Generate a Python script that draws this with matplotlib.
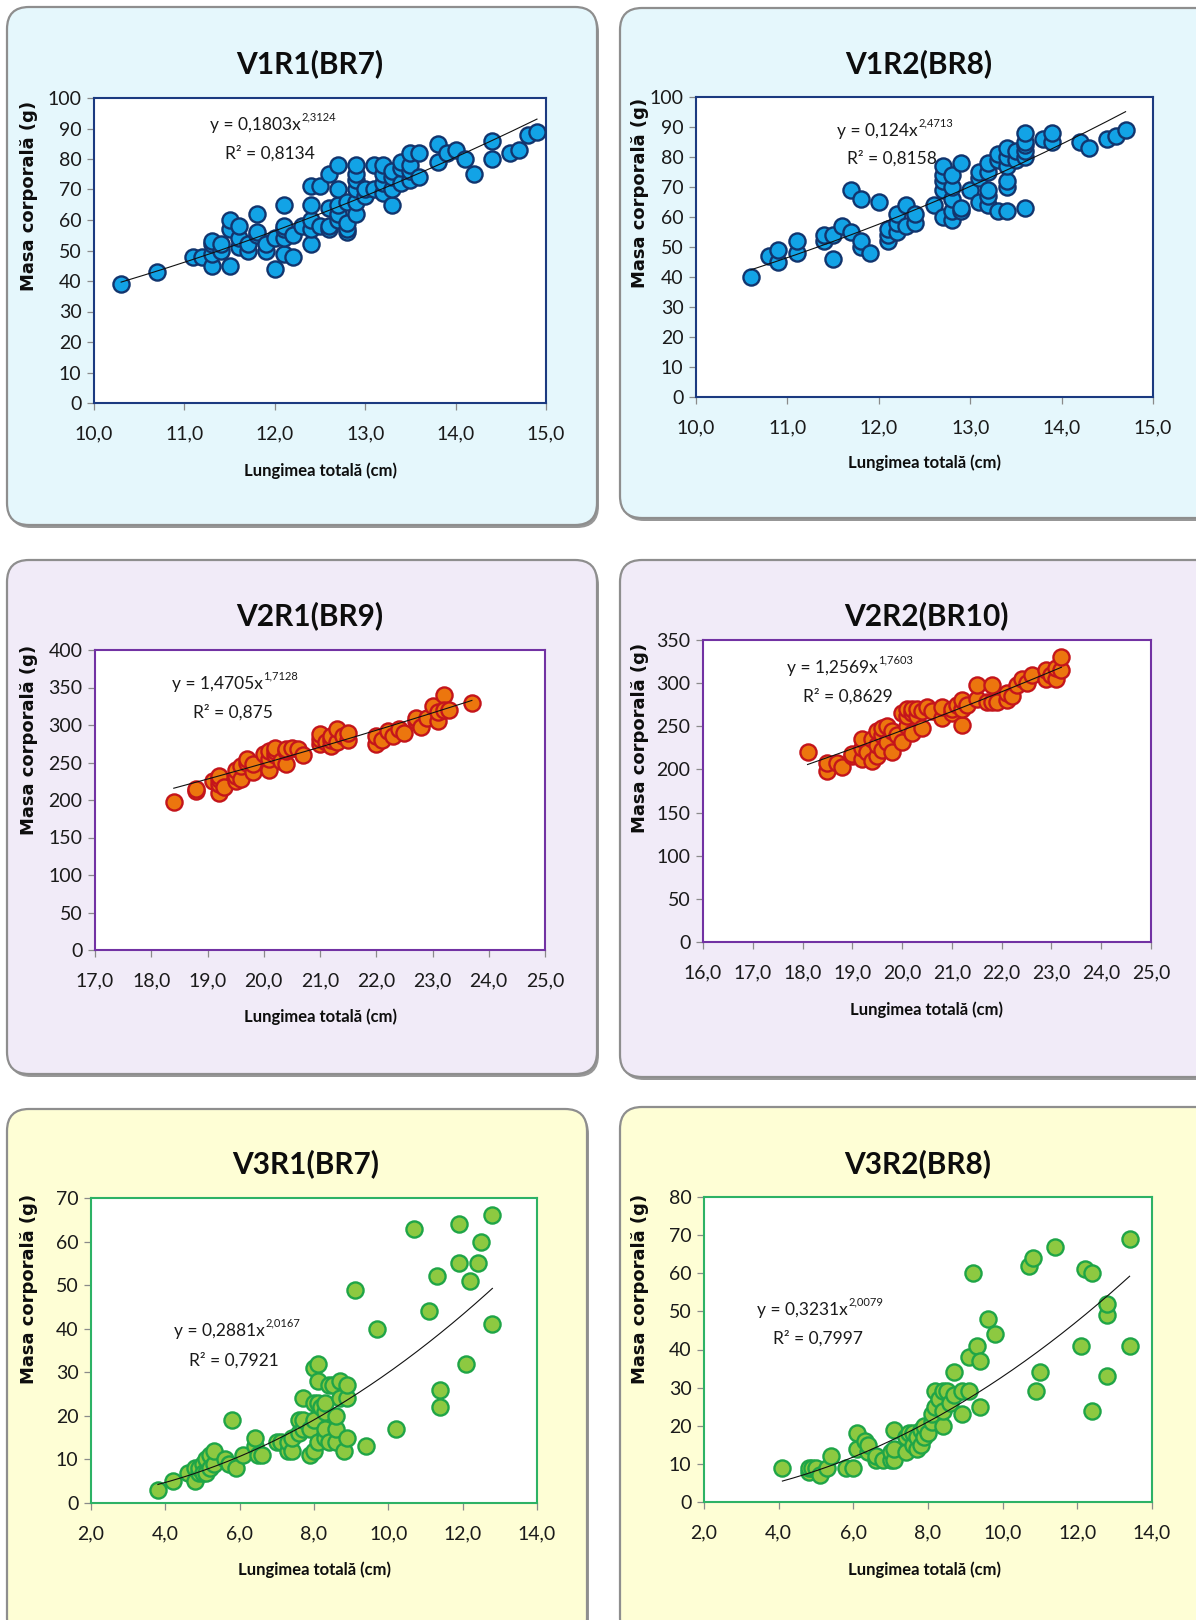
import numpy as np
import matplotlib
matplotlib.use("Agg")
import matplotlib.pyplot as plt
from matplotlib import font_manager
from matplotlib.patches import FancyBboxPatch
from matplotlib.ticker import FuncFormatter

# ---------------------------------------------------------------- data
titles = ["V1R1(BR7)", "V1R2(BR8)", "V2R1(BR9)", "V2R2(BR10)", "V3R1(BR7)", "V3R2(BR8)"]

v1r1_len = [10.3, 10.7, 11.1, 11.2, 11.3, 11.3, 11.3, 11.3, 11.4, 11.4, 11.5, 11.5, 11.5,
            11.6, 11.6, 11.6, 11.7, 11.7, 11.8, 11.8, 11.8, 11.9, 11.9, 12.0, 12.0, 12.1,
            12.1, 12.1, 12.1, 12.1, 12.2, 12.2, 12.3, 12.4, 12.4, 12.4, 12.4, 12.4, 12.5,
            12.5, 12.6, 12.6, 12.6, 12.6, 12.7, 12.7, 12.7, 12.7, 12.7, 12.8, 12.8, 12.8,
            12.8, 12.9, 12.9, 12.9, 12.9, 12.9, 12.9, 13.0, 13.0, 13.1, 13.1, 13.2, 13.2,
            13.2, 13.2, 13.3, 13.3, 13.3, 13.3, 13.4, 13.4, 13.4, 13.5, 13.5, 13.5, 13.5,
            13.6, 13.6, 13.8, 13.8, 13.9, 14.0, 14.1, 14.2, 14.4, 14.4, 14.6, 14.7, 14.8, 14.9]
v1r1_mass = [39, 43, 48, 48, 45, 49, 52, 53, 50, 52, 45, 57, 60,
             51, 54, 58, 50, 52, 55, 62, 56, 50, 52, 44, 54, 49,
             54, 57, 58, 65, 48, 55, 58, 52, 57, 60, 65, 71, 58,
             71, 57, 58, 64, 75, 60, 62, 65, 70, 78, 56, 57, 59,
             66, 62, 66, 70, 73, 75, 78, 68, 70, 70, 78, 69, 72,
             75, 78, 65, 70, 74, 76, 72, 77, 79, 73, 76, 78, 82,
             74, 82, 79, 85, 82, 83, 80, 75, 80, 86, 82, 83, 88, 89]

v1r2_len = [10.6, 10.8, 10.9, 10.9, 11.1, 11.1, 11.4, 11.4, 11.5, 11.5, 11.6, 11.7, 11.7,
            11.8, 11.8, 11.8, 11.9, 12.0, 12.1, 12.1, 12.1, 12.2, 12.2, 12.2, 12.3, 12.3,
            12.4, 12.4, 12.6, 12.7, 12.7, 12.7, 12.7, 12.7, 12.8, 12.8, 12.8, 12.8, 12.8,
            12.9, 12.9, 12.9, 13.0, 13.1, 13.1, 13.1, 13.2, 13.2, 13.2, 13.2, 13.2, 13.3,
            13.3, 13.3, 13.4, 13.4, 13.4, 13.4, 13.4, 13.4, 13.5, 13.5, 13.6, 13.6, 13.6,
            13.6, 13.6, 13.6, 13.8, 13.9, 13.9, 14.2, 14.3, 14.5, 14.6, 14.7]
v1r2_mass = [40, 47, 45, 49, 48, 52, 52, 54, 46, 54, 57, 55, 69,
             50, 52, 66, 48, 65, 52, 54, 56, 55, 58, 61, 57, 64,
             58, 61, 64, 60, 69, 72, 74, 77, 59, 62, 66, 70, 74,
             62, 63, 78, 69, 65, 73, 75, 64, 67, 69, 75, 78, 62,
             79, 81, 62, 70, 72, 77, 80, 83, 79, 82, 63, 80, 82,
             84, 85, 88, 86, 85, 88, 85, 83, 86, 87, 89]

v2r1_len = [18.4, 18.8, 18.8, 19.1, 19.2, 19.2, 19.2, 19.2, 19.3, 19.5, 19.5, 19.5, 19.6,
            19.6, 19.7, 19.7, 19.8, 19.8, 20.0, 20.1, 20.1, 20.1, 20.2, 20.2, 20.2, 20.3,
            20.4, 20.4, 20.4, 20.5, 20.6, 20.7, 21.0, 21.0, 21.0, 21.1, 21.2, 21.2, 21.2,
            21.3, 21.3, 21.4, 21.5, 21.5, 22.0, 22.0, 22.1, 22.2, 22.3, 22.4, 22.5, 22.7,
            22.7, 22.8, 22.9, 23.0, 23.1, 23.1, 23.2, 23.2, 23.3, 23.7]
v2r1_mass = [198, 212, 215, 225, 210, 222, 228, 232, 218, 225, 232, 240, 228,
             245, 250, 255, 238, 248, 262, 240, 255, 265, 260, 265, 270, 252,
             248, 265, 268, 270, 268, 260, 275, 282, 288, 278, 272, 280, 285,
             278, 295, 285, 280, 290, 275, 285, 280, 292, 285, 295, 290, 305,
             310, 298, 310, 325, 305, 318, 340, 320, 320, 330]

v2r2_len = [18.1, 18.5, 18.5, 18.7, 18.8, 19.0, 19.0, 19.2, 19.2, 19.2, 19.3, 19.4, 19.4,
            19.5, 19.5, 19.5, 19.6, 19.6, 19.6, 19.7, 19.7, 19.8, 19.8, 19.9, 20.0, 20.0,
            20.1, 20.1, 20.1, 20.2, 20.2, 20.2, 20.3, 20.3, 20.4, 20.4, 20.5, 20.6, 20.8,
            20.8, 21.0, 21.0, 21.1, 21.2, 21.2, 21.2, 21.3, 21.5, 21.5, 21.7, 21.8, 21.8,
            21.9, 22.1, 22.1, 22.2, 22.3, 22.4, 22.5, 22.6, 22.9, 22.9, 23.0, 23.1, 23.1,
            23.2, 23.2]
v2r2_mass = [220, 198, 208, 208, 203, 215, 218, 212, 225, 235, 220, 210, 235,
             215, 228, 245, 222, 240, 248, 232, 250, 220, 245, 240, 232, 265,
             250, 262, 270, 242, 265, 270, 262, 270, 248, 268, 272, 268, 260,
             272, 265, 270, 275, 252, 270, 280, 275, 282, 298, 278, 278, 298,
             278, 280, 288, 285, 298, 305, 300, 310, 305, 315, 310, 305, 318,
             315, 330]

v3r1_len = [3.8, 4.2, 4.6, 4.8, 4.8, 4.9, 4.9, 5.0, 5.0, 5.1, 5.1, 5.2, 5.2, 5.3, 5.3,
            5.6, 5.7, 5.8, 5.9, 6.1, 6.4, 6.4, 6.5, 6.6, 7.0, 7.1, 7.3, 7.3, 7.4, 7.4,
            7.6, 7.6, 7.7, 7.7, 7.7, 7.9, 7.9, 8.0, 8.0, 8.0, 8.0, 8.1, 8.1, 8.1, 8.1,
            8.2, 8.3, 8.3, 8.3, 8.3, 8.4, 8.4, 8.5, 8.6, 8.6, 8.6, 8.7, 8.7, 8.8, 8.9,
            8.9, 8.9, 9.1, 9.4, 9.7, 10.2, 10.7, 11.1, 11.3, 11.4, 11.4, 11.9, 11.9,
            12.1, 12.2, 12.4, 12.5, 12.8, 12.8]
v3r1_mass = [3, 5, 7, 5, 8, 7, 8, 9, 7, 10, 7, 11, 8, 9, 12,
             10, 9, 19, 8, 11, 13, 15, 11, 11, 14, 14, 12, 14, 12, 15,
             16, 19, 17, 19, 24, 11, 17, 12, 19, 23, 31, 14, 23, 28, 32,
             22, 15, 17, 21, 23, 14, 27, 27, 14, 17, 20, 24, 28, 12, 15,
             24, 27, 49, 13, 40, 17, 63, 44, 52, 22, 26, 55, 64,
             32, 51, 55, 60, 41, 66]

v3r2_len = [4.1, 4.8, 4.8, 4.9, 5.0, 5.1, 5.3, 5.4, 5.8, 6.0, 6.1, 6.1, 6.3, 6.4, 6.4,
            6.6, 6.6, 6.8, 7.0, 7.0, 7.1, 7.1, 7.1, 7.4, 7.4, 7.5, 7.6, 7.6, 7.7, 7.7,
            7.8, 7.8, 7.9, 7.9, 8.0, 8.1, 8.1, 8.2, 8.2, 8.3, 8.4, 8.4, 8.4, 8.5, 8.6,
            8.7, 8.7, 8.9, 8.9, 9.1, 9.1, 9.2, 9.3, 9.4, 9.4, 9.6, 9.8, 10.7, 10.8,
            10.9, 11.0, 11.4, 12.1, 12.2, 12.4, 12.4, 12.8, 12.8, 12.8, 13.4, 13.4]
v3r2_mass = [9, 8, 9, 9, 9, 7, 9, 12, 9, 9, 14, 18, 16, 13, 15,
             11, 12, 11, 11, 13, 11, 14, 19, 13, 17, 18, 15, 18, 14, 17,
             15, 19, 17, 20, 18, 21, 23, 25, 29, 27, 20, 24, 29, 29, 26,
             28, 34, 23, 29, 29, 38, 60, 41, 25, 37, 48, 44, 62, 64,
             29, 34, 67, 41, 61, 24, 60, 33, 49, 52, 41, 69]

# power trend lines  y = a * x^b  and their R^2
trend_a = [0.1803, 0.124, 1.4705, 1.2569, 0.2881, 0.3231]
trend_b = [2.3124, 2.4713, 1.7128, 1.7603, 2.0167, 2.0079]
trend_r2 = ["0,8134", "0,8158", "0,875", "0,8629", "0,7921", "0,7997"]
trend_a_txt = ["0,1803", "0,124", "1,4705", "1,2569", "0,2881", "0,3231"]
trend_b_txt = ["2,3124", "2,4713", "1,7128", "1,7603", "2,0167", "2,0079"]

# axis ranges and ticks
x_ticks = [np.arange(10, 15.01, 1), np.arange(10, 15.01, 1), np.arange(17, 25.01, 1),
           np.arange(16, 25.01, 1), np.arange(2, 14.01, 2), np.arange(2, 14.01, 2)]
y_ticks = [np.arange(0, 101, 10), np.arange(0, 101, 10), np.arange(0, 401, 50),
           np.arange(0, 351, 50), np.arange(0, 71, 10), np.arange(0, 81, 10)]

lengths = [v1r1_len, v1r2_len, v2r1_len, v2r2_len, v3r1_len, v3r2_len]
masses = [v1r1_mass, v1r2_mass, v2r1_mass, v2r2_mass, v3r1_mass, v3r2_mass]

x_label = "Lungimea totală (cm)"
y_label = "Masa corporală (g)"

# ---------------------------------------------------------------- styling
avail = {f.name for f in font_manager.fontManager.ttflist}


def pick(*names):
    for n in names:
        if n in avail:
            return n
    return "DejaVu Sans"


NARROW = pick("Liberation Sans Narrow", "Lato", "Roboto", "Open Sans")
WIDE = pick("DejaVu Sans")

W, H = 1196, 1620

# rows: blue / orange / green themes
themes = [
    dict(bg="#E5F7FC", frame="#1B3A80", fill="#12A3E6", edge="#12356E"),
    dict(bg="#F1EBF8", frame="#7232A3", fill="#EC760E", edge="#C4151B"),
    dict(bg="#FEFED5", frame="#2DB265", fill="#8DC941", edge="#1FA547"),
]

# layout in pixels: panel box (x0, y0, x1, y1), plot area (l, t, r, b),
# title centre, x-label centre, y-label centre, equation left/y, R2 left/y
layout = [
    dict(box=(7, 7, 597, 525), ax=(94, 98, 546, 403), title=(310, 64), xl=(320, 471),
         yl=(29, 196), eq=(210, 125), r2=(225, 153)),
    dict(box=(620, 8, 1220, 518), ax=(696, 97, 1153, 397), title=(919, 64), xl=(924, 463),
         yl=(640, 193), eq=(837, 131), r2=(847, 158)),
    dict(box=(7, 560, 597, 1074), ax=(95, 650, 545, 950), title=(310, 616), xl=(320, 1017),
         yl=(29, 740), eq=(172, 684), r2=(193, 712)),
    dict(box=(620, 560, 1220, 1077), ax=(703, 640, 1151, 942), title=(926, 616), xl=(926, 1010),
         yl=(640, 738), eq=(787, 668), r2=(803, 696)),
    dict(box=(7, 1109, 587, 1640), ax=(91, 1198, 537, 1503), title=(306, 1164), xl=(314, 1570),
         yl=(29, 1289), eq=(174, 1331), r2=(189, 1360)),
    dict(box=(620, 1107, 1220, 1640), ax=(704, 1197, 1152, 1502), title=(918, 1164), xl=(924, 1570),
         yl=(640, 1289), eq=(757, 1310), r2=(773, 1338)),
]

fig = plt.figure(figsize=(W / 100, H / 100), dpi=100)
fig.patch.set_facecolor("white")

# background layer for the rounded panels
bg = fig.add_axes([0, 0, 1, 1], zorder=-10)
bg.set_xlim(0, W)
bg.set_ylim(H, 0)
bg.axis("off")

# foreground layer for the texts
fg = fig.add_axes([0, 0, 1, 1], zorder=20)
fg.set_xlim(0, W)
fg.set_ylim(H, 0)
fg.axis("off")
fg.patch.set_alpha(0)

comma = FuncFormatter(lambda v, p: f"{v:.1f}".replace(".", ","))
integer = FuncFormatter(lambda v, p: f"{v:.0f}")

eq_texts = []
for i in range(6):
    th = themes[i // 2]
    lo = layout[i]
    x0, y0, x1, y1 = lo["box"]

    # shadow and panel
    bg.add_patch(FancyBboxPatch((x0 + 2, y0 + 3), x1 - x0, y1 - y0,
                                boxstyle="round,pad=0,rounding_size=22",
                                facecolor="#979797", edgecolor="none"))
    bg.add_patch(FancyBboxPatch((x0, y0), x1 - x0, y1 - y0,
                                boxstyle="round,pad=0,rounding_size=22",
                                facecolor=th["bg"], edgecolor="#8E8E8E", linewidth=1.6))

    l, t, r, b = lo["ax"]
    ax = fig.add_axes([l / W, 1 - b / H, (r - l) / W, (b - t) / H])
    ax.set_facecolor("white")
    xt, yt = x_ticks[i], y_ticks[i]
    ax.set_xlim(xt[0], xt[-1])
    ax.set_ylim(yt[0], yt[-1])
    ax.set_xticks(xt)
    ax.set_yticks(yt)
    ax.xaxis.set_major_formatter(comma)
    ax.yaxis.set_major_formatter(integer)
    for s in ax.spines.values():
        s.set_color(th["frame"])
        s.set_linewidth(1.5)
    ax.tick_params(axis="both", direction="out", length=5, width=0.9, color="#8A8A8A",
                   labelsize=14, labelcolor="#1A1A1A")
    ax.tick_params(axis="x", pad=11)
    ax.tick_params(axis="y", pad=4)
    for lab in ax.get_xticklabels() + ax.get_yticklabels():
        lab.set_fontfamily(NARROW)

    xs = np.asarray(lengths[i], dtype=float)
    ys = np.asarray(masses[i], dtype=float)
    ax.scatter(xs, ys, s=135, facecolor=th["fill"], edgecolor=th["edge"], linewidth=1.7,
               zorder=3, clip_on=False)

    xf = np.linspace(xs.min(), xs.max(), 200)
    ax.plot(xf, trend_a[i] * xf ** trend_b[i], color="#111111", linewidth=0.8, zorder=4)

    # texts
    fg.text(*lo["title"], titles[i], ha="center", va="center", fontsize=21.5,
            fontweight="bold", family=NARROW, color="#0D0D0D")
    fg.text(*lo["xl"], x_label, ha="center", va="center", fontsize=12,
            fontweight="bold", family=NARROW, color="#0D0D0D")
    fg.text(*lo["yl"], y_label, ha="center", va="center", fontsize=13, rotation=90,
            fontweight="bold", family=WIDE, color="#0D0D0D")
    t_eq = fg.text(*lo["eq"], f"y = {trend_a_txt[i]}x", ha="left", va="center",
                   fontsize=12.5, family=NARROW, color="#1A1A1A")
    fg.text(*lo["r2"], f"R² = {trend_r2[i]}", ha="left", va="center",
            fontsize=12.5, family=NARROW, color="#1A1A1A")
    eq_texts.append((t_eq, lo["eq"], trend_b_txt[i]))

# exponents placed right after each equation
renderer = fig.canvas.get_renderer()
for t_eq, (ex, ey), expo in eq_texts:
    bb = t_eq.get_window_extent(renderer=renderer)
    fg.text(bb.x1 + 0.5, ey - 8, expo, ha="left", va="center", fontsize=8,
            family=NARROW, color="#1A1A1A")

fig.savefig("out.png", dpi=100)
